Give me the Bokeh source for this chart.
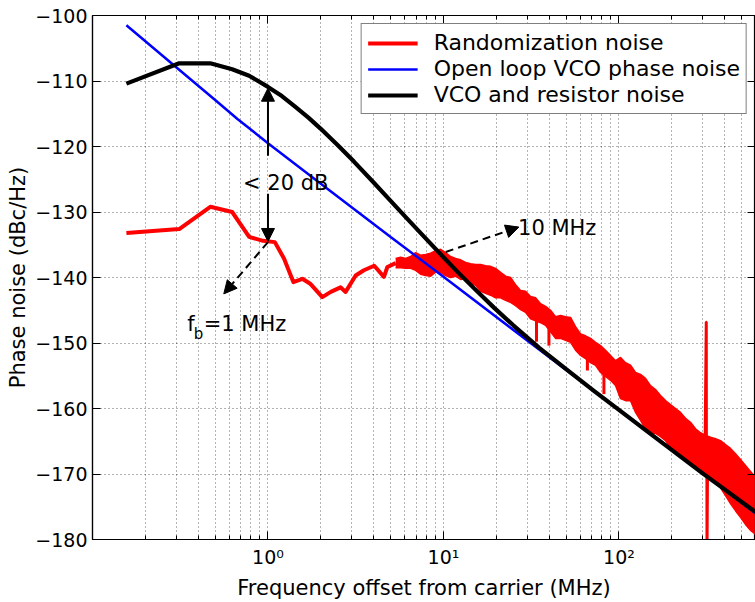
from bokeh.plotting import figure
from bokeh.models import (Range1d, FixedTicker, LinearAxis, LogAxis, Legend, LegendItem,
                          Arrow, NormalHead, Label)
from bokeh.embed import file_html
from bokeh.resources import INLINE

FONT = "DejaVu Sans"

# ---------------- data (MHz, dBc/Hz) ----------------
red_low_freq = [0.156, 0.312, 0.469, 0.625, 0.781, 0.937, 1.094, 1.234, 1.395, 1.57, 1.75,
                2.04, 2.28, 2.59, 2.77, 3.16, 3.52, 4.03, 4.58, 4.79, 5.34]
red_low_val = [-133.2, -132.6, -129.2, -130.0, -133.8, -134.4, -134.6, -137.1, -140.7, -140.2, -141.0,
               -143.0, -142.2, -141.5, -142.2, -139.7, -138.9, -138.2, -139.9, -138.4, -137.8]

band_freq = [5.34, 5.70, 6.09, 6.50, 6.94, 7.41, 7.91, 8.45, 9.02, 9.63,
             10.28, 10.98, 11.72, 12.52, 13.37, 14.27, 15.24, 16.27, 17.38, 18.55,
             19.81, 21.15, 22.59, 24.12, 25.75, 27.50, 29.36, 31.35, 33.48, 35.75,
             38.17, 40.76, 43.52, 46.47, 49.62, 52.99, 56.58, 60.42, 64.51, 68.88,
             73.55, 78.54, 83.86, 89.55, 95.62, 102.1, 109.0, 116.4, 124.3, 132.7,
             141.7, 151.3, 161.6, 172.5, 184.2, 196.7, 210.1, 224.3, 239.5, 255.7,
             273.1, 291.6, 311.4, 332.5, 355.0, 379.1, 404.8, 432.2, 461.5, 492.8,
             526.2, 561.9, 600.0]
band_hi = [-137.1, -136.9, -137.1, -136.8, -136.2, -136.6, -136.5, -136.3, -135.9, -135.7,
           -136.2, -136.8, -137.1, -137.3, -137.7, -137.9, -138.0, -138.0, -138.2, -138.3,
           -138.6, -139.2, -139.8, -140.0, -141.1, -142.0, -142.1, -142.9, -143.1, -144.0,
           -144.4, -145.0, -146.0, -145.8, -146.0, -146.1, -147.5, -148.6, -148.9, -149.3,
           -149.9, -150.4, -151.1, -151.9, -152.7, -152.2, -153.0, -153.4, -154.5, -154.8,
           -155.4, -156.5, -157.1, -158.0, -158.8, -159.4, -160.0, -160.6, -161.5, -162.1,
           -163.1, -163.7, -164.1, -164.4, -164.6, -164.9, -165.5, -166.1, -166.9, -167.8,
           -168.7, -169.6, -170.5]
band_lo = [-138.5, -138.5, -138.6, -138.6, -138.9, -139.5, -139.7, -139.8, -139.2, -139.2,
           -139.7, -140.0, -139.8, -140.3, -140.2, -140.9, -141.2, -142.1, -142.4, -142.7,
           -143.1, -143.1, -143.5, -143.8, -144.3, -144.9, -145.3, -146.3, -146.6, -146.9,
           -147.3, -148.3, -149.3, -149.3, -149.6, -149.9, -151.1, -151.9, -152.4, -153.0,
           -153.4, -154.5, -155.1, -155.7, -156.5, -158.5, -158.8, -158.8, -160.6, -161.8,
           -163.1, -163.7, -163.8, -164.3, -164.9, -166.1, -166.7, -167.3, -167.9, -168.4,
           -169.2, -169.8, -170.1, -170.4, -171.0, -172.1, -173.3, -174.5, -175.6, -176.6,
           -177.7, -178.6, -179.2]

# narrow downward dips below the noise band
dip_freq = [33.9, 39.9, 66.1, 82.1]
dip_base = [-146.0, -147.5, -152.0, -154.6]
dip_val = [-149.8, -150.4, -154.2, -157.8]

# spur near 315 MHz
spike_freq = [309.0, 313.5, 315.5, 316.5, 318.5, 321.0]
spike_val = [-164.3, -146.8, -146.8, -182.0, -182.0, -168.0]

blue_freq = [0.156, 0.3, 0.5, 0.67, 1.0, 2.0, 5.0, 10.0, 30.0, 100.0, 300.0, 600.0]
blue_val = [-101.5, -107.9, -112.9, -115.8, -119.5, -125.7, -133.8, -139.9, -149.6, -160.2, -169.9, -176.0]

black_freq = [0.156, 0.312, 0.469, 0.625, 0.781, 1.0, 1.2, 1.41, 1.7, 2.0, 2.5, 3.09, 4.0, 5.0,
              6.0, 7.58, 10.0, 12.0, 15.0, 19.4, 25.0, 35.0, 50.0, 72.0, 100.0, 150.0, 300.0, 600.0]
black_val = [-110.4, -107.3, -107.3, -108.2, -109.2, -110.9, -112.3, -113.8, -115.6, -117.3, -119.8,
             -122.3, -125.5, -128.3, -130.6, -133.5, -136.9, -139.1, -141.7, -144.6, -147.3, -150.7,
             -154.0, -157.3, -160.2, -163.8, -169.9, -175.8]

series_labels = ["Randomization noise", "Open loop VCO phase noise", "VCO and resistor noise"]

x_major = [1, 10, 100]
x_major_labels = {1: "10\u2070", 10: "10\u00b9", 100: "10\u00b2"}
x_minor = [0.2, 0.3, 0.4, 0.5, 0.6, 0.7, 0.8, 0.9,
           2, 3, 4, 5, 6, 7, 8, 9,
           20, 30, 40, 50, 60, 70, 80, 90,
           200, 300, 400, 500]
y_ticks = [-180, -170, -160, -150, -140, -130, -120, -110, -100]
y_tick_labels = {v: "\u2212" + str(abs(v)) for v in y_ticks}

# ---------------- figure ----------------
p = figure(width=755, height=602, x_axis_type="log",
           x_range=Range1d(0.1, 600), y_range=Range1d(-180, -100),
           output_backend="svg", toolbar_location=None,
           min_border_left=92, min_border_right=0, min_border_top=15, min_border_bottom=63)
p.background_fill_color = "white"
p.border_fill_color = "white"
p.outline_line_color = "black"
p.outline_line_width = 1.2

xt = FixedTicker(ticks=x_major, minor_ticks=x_minor)
yt = FixedTicker(ticks=y_ticks)


def style_axis(ax, labels=True):
    ax.axis_line_color = "black"
    ax.axis_line_width = 1.2
    ax.major_tick_line_color = "black"
    ax.minor_tick_line_color = "black"
    ax.major_tick_in = 8
    ax.major_tick_out = 0
    ax.minor_tick_in = 4
    ax.minor_tick_out = 0
    ax.major_label_text_font = FONT
    ax.major_label_text_color = "black"
    if labels:
        ax.major_label_text_font_size = "19px"
    else:
        ax.major_label_text_font_size = "1px"
        ax.major_label_text_alpha = 0.0
        ax.major_label_standoff = 0


xa = p.xaxis[0]
xa.ticker = xt
xa.major_label_overrides = x_major_labels
style_axis(xa)
xa.major_label_standoff = 6
xa.axis_label = "Frequency offset from carrier (MHz)"
xa.axis_label_text_font = FONT
xa.axis_label_text_font_size = "21px"
xa.axis_label_text_font_style = "normal"
xa.axis_label_text_color = "black"
xa.axis_label_standoff = 5

ya = p.yaxis[0]
ya.ticker = yt
ya.major_label_overrides = y_tick_labels
style_axis(ya)
ya.major_label_standoff = 5
ya.axis_label = "Phase noise (dBc/Hz)"
ya.axis_label_text_font = FONT
ya.axis_label_text_font_size = "21px"
ya.axis_label_text_font_style = "normal"
ya.axis_label_text_color = "black"
ya.axis_label_standoff = 2

top_ax = LogAxis(ticker=xt)
style_axis(top_ax, labels=False)
p.add_layout(top_ax, "above")
right_ax = LinearAxis(ticker=yt)
style_axis(right_ax, labels=False)
p.add_layout(right_ax, "right")

p.xgrid.ticker = xt
p.ygrid.ticker = yt
for g in (p.xgrid, p.ygrid):
    g.grid_line_color = "black"
    g.grid_line_alpha = 0.6
    g.grid_line_dash = "1 3"
    g.grid_line_width = 1
p.xgrid.minor_grid_line_color = "black"
p.xgrid.minor_grid_line_alpha = 0.6
p.xgrid.minor_grid_line_dash = "1 3"

# ---------------- series ----------------
RED, BLUE = "#ff0000", "#0000ff"
r_red = p.line(red_low_freq, red_low_val, line_color=RED, line_width=4, line_join="round")
p.varea(x=band_freq, y1=band_lo, y2=band_hi, fill_color=RED)
p.line(band_freq, band_hi, line_color=RED, line_width=1.5)
p.line(band_freq, band_lo, line_color=RED, line_width=1.5)
p.segment(x0=dip_freq, y0=dip_base, x1=dip_freq, y1=dip_val, line_color=RED, line_width=3)
p.line(spike_freq, spike_val, line_color=RED, line_width=2.5)
r_blue = p.line(blue_freq, blue_val, line_color=BLUE, line_width=2.5)
r_black = p.line(black_freq, black_val, line_color="black", line_width=4.2, line_join="round")

legend = Legend(items=[LegendItem(label=series_labels[0], renderers=[r_red]),
                       LegendItem(label=series_labels[1], renderers=[r_blue]),
                       LegendItem(label=series_labels[2], renderers=[r_black])],
                location="top_right", margin=8, padding=6, spacing=1,
                glyph_width=50, glyph_height=20, label_standoff=16,
                label_text_font=FONT, label_text_font_size="22px", label_text_color="black",
                border_line_color="black", border_line_width=1.2,
                background_fill_color="white", background_fill_alpha=1.0)
p.add_layout(legend)

# ---------------- annotations ----------------
def head():
    return NormalHead(size=13, fill_color="black", line_color="black", line_width=1)

p.add_layout(Arrow(end=head(), x_start=1.0, y_start=-121.4, x_end=1.0, y_end=-111.1,
                   line_color="black", line_width=2))
p.add_layout(Arrow(end=head(), x_start=1.0, y_start=-127.2, x_end=1.0, y_end=-134.5,
                   line_color="black", line_width=2))
p.add_layout(Arrow(end=head(), x_start=1.0, y_start=-134.6, x_end=0.56, y_end=-142.5,
                   line_color="black", line_width=2, line_dash="8 5"))
p.add_layout(Arrow(end=head(), x_start=10.3, y_start=-136.1, x_end=26.9, y_end=-132.3,
                   line_color="black", line_width=2, line_dash="8 5"))


def lab(x, y, t, size="21px", align="left"):
    p.add_layout(Label(x=x, y=y, text=t, text_font=FONT, text_font_size=size,
                       text_color="black", text_align=align, text_baseline="alphabetic"))


lab(1.262, -125.5, "< 20 dB", align="center")
lab(26.6, -132.4, "10 MHz")
lab(0.347, -147.1, "f")
lab(0.377, -148.6, "b", size="15px")
lab(0.43, -147.1, "=1 MHz")

open("out.html", "w").write(file_html(p, INLINE))
